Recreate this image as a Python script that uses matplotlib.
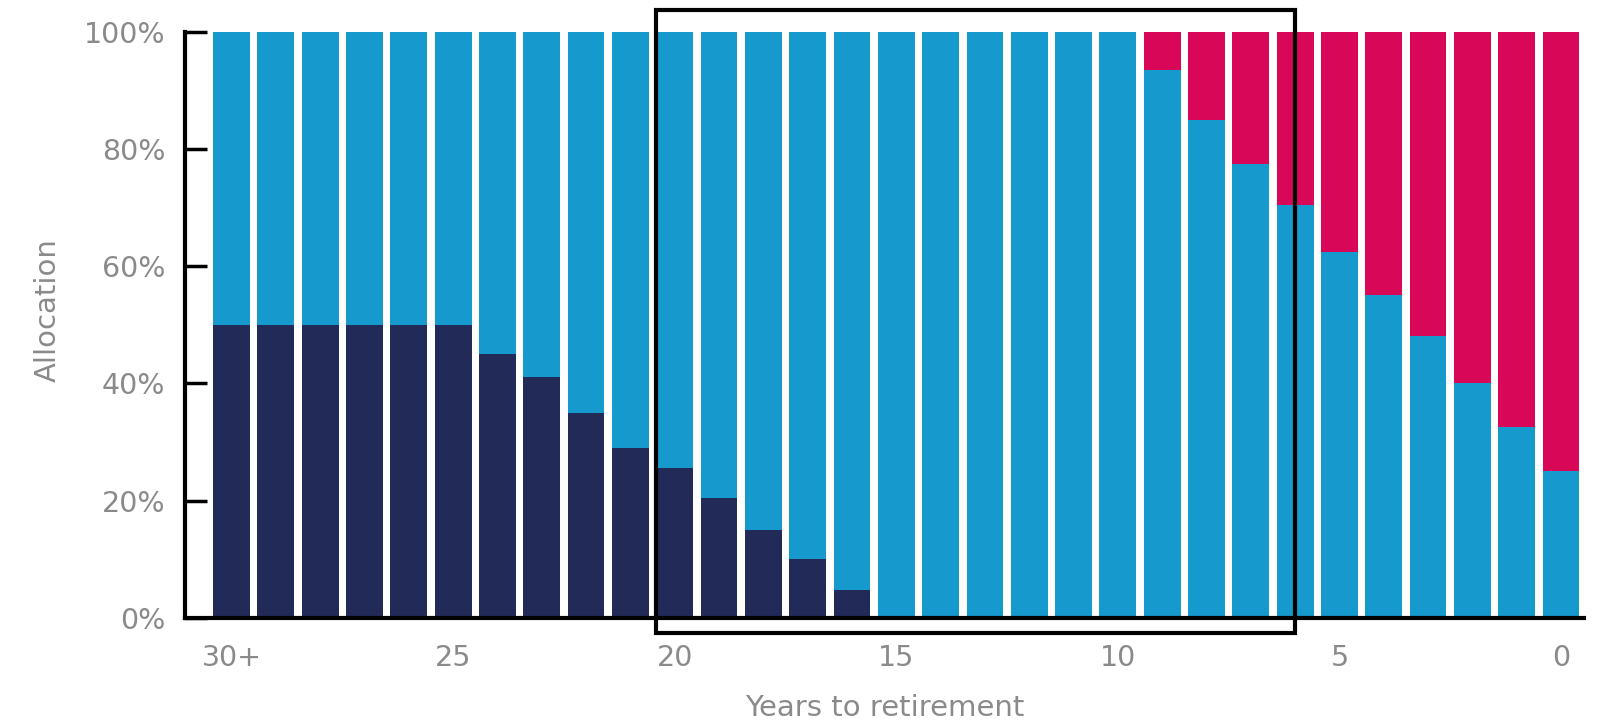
import numpy as np
import matplotlib
matplotlib.use('Agg')
import matplotlib.pyplot as plt
from matplotlib.patches import Rectangle

# Years to retirement, 30+ down to 0 (one bar per year)
years = ['30+'] + [str(y) for y in range(29, -1, -1)]
# allocation shares in percent
dark = [50, 50, 50, 50, 50, 50, 45, 41, 35, 29, 25.5, 20.5, 15, 10, 4.8,
        0, 0, 0, 0, 0, 0, 0, 0, 0, 0, 0, 0, 0, 0, 0, 0]
red = [0] * 21 + [6.5, 15, 22.5, 29.5, 37.5, 45, 52, 60, 67.5, 75]
blue = [100 - d - r for d, r in zip(dark, red)]
tick_pos = [0, 5, 10, 15, 20, 25, 30]
tick_lab = ['30+', '25', '20', '15', '10', '5', '0']
yticks = [0, 20, 40, 60, 80, 100]

C_DARK = '#222b57'
C_BLUE = '#1699cc'
C_RED = '#d90758'
GRAY = '#8a8a8a'

fig = plt.figure(figsize=(16.09, 7.26), dpi=100)
ax = fig.add_axes([0.115, 0.1492, 0.8695, 0.807])

x = np.arange(len(years))
w = 0.83
ax.bar(x, dark, width=w, color=C_DARK, linewidth=0)
ax.bar(x, blue, width=w, bottom=dark, color=C_BLUE, linewidth=0)
ax.bar(x, red, width=w, bottom=np.array(dark) + np.array(blue), color=C_RED, linewidth=0)

ax.set_xlim(-1.05, 30.52)
ax.set_ylim(0, 100)

# highlight box around the glide path years
ax.add_patch(Rectangle((9.58, -2.6), 24.0 - 9.58, 103.7 + 2.6, fill=False,
                       edgecolor='black', linewidth=3, clip_on=False, zorder=5))

for s in ['top', 'right']:
    ax.spines[s].set_visible(False)
ax.spines['left'].set_linewidth(3)
ax.spines['bottom'].set_linewidth(3)

ax.set_yticks(yticks)
ax.set_yticklabels([f'{v}%' for v in yticks])
ax.tick_params(axis='y', direction='in', length=16, width=2.5, pad=14,
               labelsize=20.5, labelcolor=GRAY)
ax.set_xticks(tick_pos)
ax.set_xticklabels(tick_lab)
ax.tick_params(axis='x', length=0, pad=19, labelsize=20.5, labelcolor=GRAY)

ax.set_xlabel('Years to retirement', fontsize=21, color=GRAY, labelpad=16)
ax.set_ylabel('Allocation', fontsize=21, color=GRAY)
ax.yaxis.set_label_coords(-0.088, 0.525)

fig.savefig('out.png', dpi=100)
